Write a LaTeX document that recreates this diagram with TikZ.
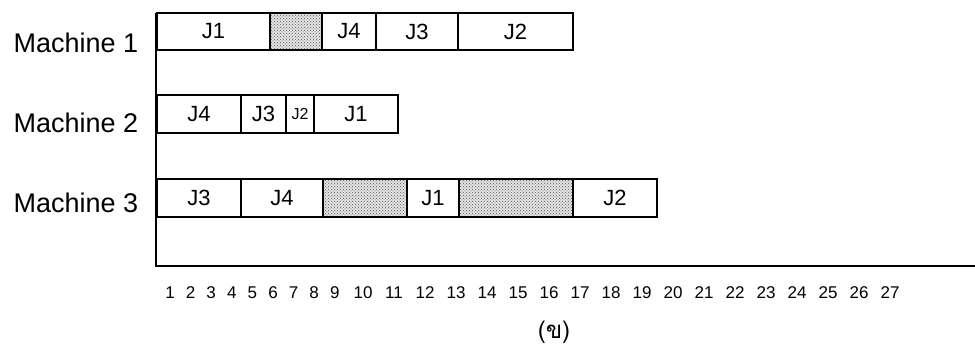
\documentclass[tikz,border=0pt]{standalone}
\usepackage{fontspec}
\setmainfont{Liberation Sans}
\newfontfamily\thaifont[Script=Thai]{Loma}
\usetikzlibrary{positioning,patterns}

\begin{document}
\begin{tikzpicture}[
    x=1pt, y=-1pt,
    node distance=0pt,
    job/.style={
        rectangle, draw, line width=2pt,
        inner sep=0pt, outer sep=0pt,
        minimum height=37pt, font=\fontsize{22}{26}\selectfont
    },
    idle/.style={
        job, preaction={fill=gray!22},
        pattern=crosshatch dots, pattern color=black!65
    },
    machine/.style={anchor=base west, font=\fontsize{27}{32}\selectfont},
    tick/.style={font=\fontsize{17}{20}\selectfont},
    axis/.style={line width=2.2pt}
]
\useasboundingbox (0,0) rectangle (975,347);

% Machine labels
\node[machine] (mach1) at (10,53) {Machine 1};
\node[machine] (mach2) at (10,133) {Machine 2};
\node[machine] (mach3) at (10,213) {Machine 3};

% Axes
\coordinate (ytop) at (156,13);
\coordinate (origin) at (156,266);
\coordinate (xend) at (975,266);
\draw[axis] (ytop) -- (origin) -- (xend);

% Row 1: Machine 1
\node[job, minimum width=113pt, anchor=west] (m1j1) at (157,31.5) {J1};
\node[idle, minimum width=52pt, right=of m1j1] (m1i1) {};
\node[job, minimum width=54pt, right=of m1i1] (m1j4) {J4};
\node[job, minimum width=82pt, right=of m1j4] (m1j3) {J3};
\node[job, minimum width=115pt, right=of m1j3] (m1j2) {J2};

% Row 2: Machine 2
\node[job, minimum width=84pt, minimum height=38pt, anchor=west] (m2j4) at (157,114) {J4};
\node[job, minimum width=45pt, minimum height=38pt, right=of m2j4] (m2j3) {J3};
\node[job, minimum width=28pt, minimum height=38pt, right=of m2j3,
      font=\fontsize{16}{19}\selectfont] (m2j2) {J2};
\node[job, minimum width=84pt, minimum height=38pt, right=of m2j2] (m2j1) {J1};

% Row 3: Machine 3
\node[job, minimum width=84pt, minimum height=38pt, anchor=west] (m3j3) at (157,198) {J3};
\node[job, minimum width=82pt, minimum height=38pt, right=of m3j3] (m3j4) {J4};
\node[idle, minimum width=84pt, minimum height=38pt, right=of m3j4] (m3i1) {};
\node[job, minimum width=52pt, minimum height=38pt, right=of m3i1] (m3j1) {J1};
\node[idle, minimum width=114pt, minimum height=38pt, right=of m3j1] (m3i2) {};
\node[job, minimum width=84pt, minimum height=38pt, right=of m3i2] (m3j2) {J2};

% Time scale
\foreach \n in {1,...,9}
    \node[tick] (t\n) at ({170+(\n-1)*20.6},293) {\n};
\foreach \n in {10,...,27}
    \node[tick] (t\n) at ({363+(\n-10)*31},293) {\n};

% Caption
\node[font=\thaifont\fontsize{24}{28}\selectfont] (cap) at (554,332) {(ข)};

\end{tikzpicture}
\end{document}
